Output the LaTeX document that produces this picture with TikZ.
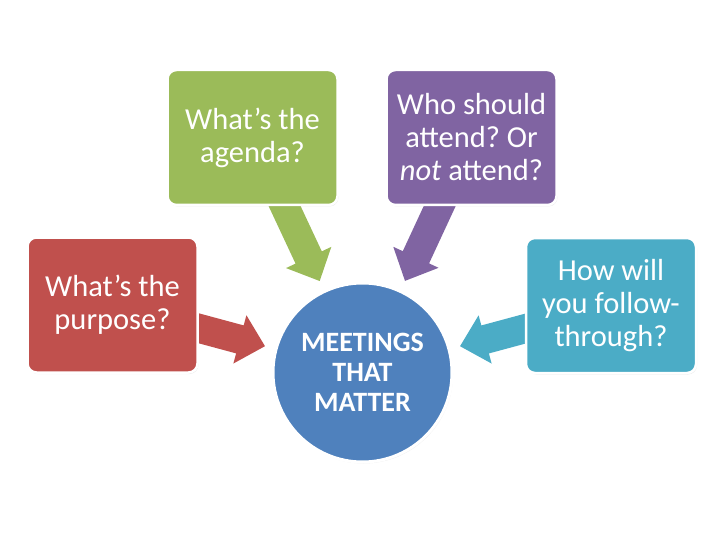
\documentclass[tikz,border=0pt]{standalone}
\usepackage{fontspec}
\setmainfont{Carlito}
\usetikzlibrary{calc,shadows,backgrounds}
\definecolor{qred}{HTML}{C0504D}
\definecolor{qgreen}{HTML}{9BBB59}
\definecolor{qpurple}{HTML}{8064A2}
\definecolor{qcyan}{HTML}{4BACC6}
\definecolor{qblue}{HTML}{4F81BD}
\frenchspacing
% block arrow from the centre of #2 towards the node #3
\newcommand{\blockarrow}[3]{%
  \coordinate (ba-s) at (#2.center);
  \coordinate (ba-c) at (#3.center);
  \coordinate (ba-t) at ($(ba-c)!101pt!(ba-s)$);
  \coordinate (ba-b) at ($(ba-c)!127pt!(ba-s)$);
  \fill[#1] ($(ba-s)!14.5pt!90:(ba-t)$) -- ($(ba-b)!14.5pt!-90:(ba-s)$)
    -- ($(ba-b)!25pt!-90:(ba-s)$) -- (ba-t) -- ($(ba-b)!25pt!90:(ba-s)$)
    -- ($(ba-b)!14.5pt!90:(ba-s)$) -- ($(ba-s)!14.5pt!-90:(ba-t)$) -- cycle;}
\begin{document}
\begin{tikzpicture}[x=1pt,y=-1pt,
    question/.style={draw=white,line width=2.5pt,rounded corners=9pt,
      minimum width=170pt,minimum height=135pt,align=center,text=white,
      font=\fontsize{30.5}{33}\selectfont,
      drop shadow={opacity=0.15,shadow xshift=1pt,shadow yshift=-1.5pt}}]
  \useasboundingbox (0,0) rectangle (720,540);
  % the four questions
  \node[question,fill=qred] (purpose) at (112.5,305) {What’s the\\purpose?};
  \node[question,fill=qgreen] (agenda) at (252.5,137.5) {What’s the\\agenda?};
  \node[question,fill=qpurple] (attend) at (471.5,137.5) {Who should\\attend? Or\\\textit{not} attend?};
  \node[question,fill=qcyan] (follow) at (611,305.5) {How will\\you follow-\\through?};
  % centre
  \node[circle,draw=white,line width=3pt,fill=qblue,minimum size=179pt,
    align=center,text=white,font=\bfseries\fontsize{28}{30}\selectfont,
    drop shadow={opacity=0.15,shadow xshift=1pt,shadow yshift=-1.5pt}]
    (core) at (362.5,372.5) {MEETINGS\\THAT\\MATTER};
  % arrows under the boxes
  \begin{scope}[on background layer]
    \blockarrow{qred}{purpose}{core}
    \blockarrow{qgreen}{agenda}{core}
    \blockarrow{qpurple}{attend}{core}
    \blockarrow{qcyan}{follow}{core}
  \end{scope}
\end{tikzpicture}
\end{document}
